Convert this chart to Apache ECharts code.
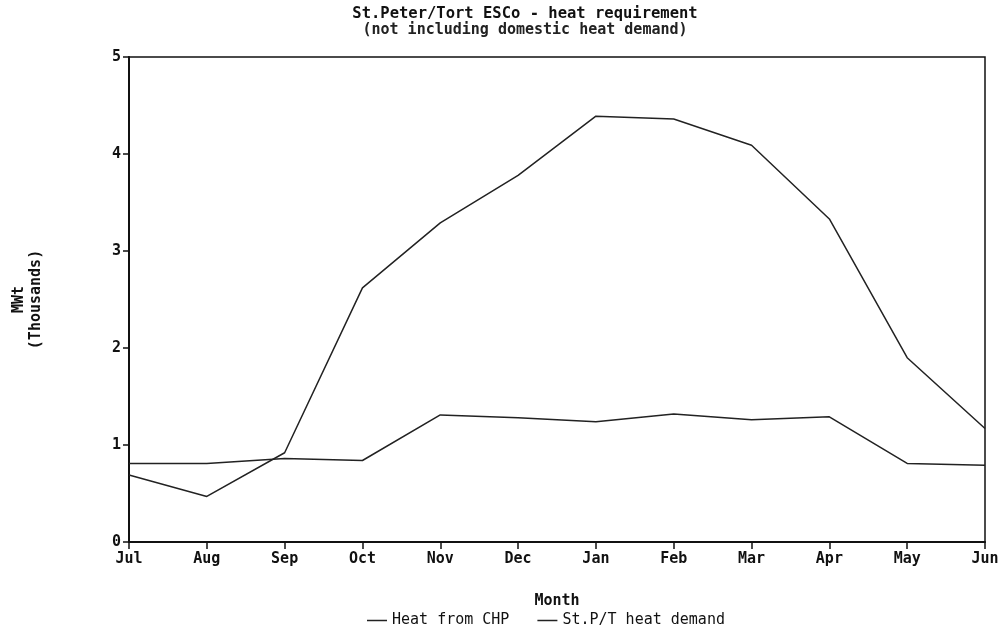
<!DOCTYPE html>
<html>
<head>
<meta charset="utf-8">
<script src="https://cdn.jsdelivr.net/npm/echarts@6/dist/echarts.min.js"></script>
<style>html,body{margin:0;padding:0;background:#fff;}#c{width:1008px;height:636px;}</style>
</head>
<body>
<div id="c"></div>
<script>
const months = ['Jul','Aug','Sep','Oct','Nov','Dec','Jan','Feb','Mar','Apr','May','Jun'];
const heatFromCHP = [0.81,0.81,0.86,0.84,1.31,1.28,1.24,1.32,1.26,1.29,0.81,0.79];
const heatDemand = [0.69,0.47,0.92,2.62,3.29,3.78,4.39,4.36,4.09,3.33,1.90,1.17];
const yTicks = [0,1,2,3,4,5];
const seriesNames = ['Heat from CHP','St.P/T heat demand'];

const font = 'DejaVu Sans Mono';
const chart = echarts.init(document.getElementById('c'));
chart.setOption({
  backgroundColor:'#fff',
  animation:false,
  title:{
    text:'St.Peter/Tort ESCo - heat requirement',
    subtext:'(not including domestic heat demand)',
    left:520, textAlign:'center', top:1,
    itemGap:1,
    textStyle:{fontFamily:font,fontSize:15.5,fontWeight:'bold',color:'#111'},
    subtextStyle:{fontFamily:font,fontSize:15,fontWeight:'bold',color:'#222'}
  },
  legend:{
    data:seriesNames,
    bottom:3,
    left:362,
    itemWidth:20,itemHeight:1.5,
    itemGap:28,
    icon:'rect',
    textStyle:{fontFamily:font,fontSize:15,color:'#111'}
  },
  grid:{left:129,right:23,top:57,bottom:94,show:true,borderColor:'#111',borderWidth:1.5},
  xAxis:{
    type:'category',
    data:months,
    boundaryGap:false,
    name:'Month',nameLocation:'middle',nameGap:52,
    nameTextStyle:{fontFamily:font,fontSize:15,fontWeight:'bold',color:'#111'},
    axisLine:{lineStyle:{color:'#111',width:2}},
    axisTick:{length:7,lineStyle:{color:'#111',width:1.5},alignWithLabel:true},
    axisLabel:{fontFamily:font,fontSize:15,fontWeight:'bold',color:'#111',margin:10,
      interval:0}
  },
  yAxis:{
    type:'value',
    min:0,max:5,interval:1,
    name:'MWt\n(Thousands)',nameLocation:'middle',nameGap:84,nameRotate:90,
    nameTextStyle:{fontFamily:font,fontSize:15,fontWeight:'bold',color:'#111',lineHeight:17},
    axisLine:{show:true,lineStyle:{color:'#111',width:2}},
    axisTick:{show:true,length:6,lineStyle:{color:'#111',width:1.5}},
    splitLine:{show:false},
    axisLabel:{fontFamily:font,fontSize:15,fontWeight:'bold',color:'#111',margin:8,
      formatter:function(v){return yTicks.indexOf(v)>=0?String(v):'';}}
  },
  series:[
    {name:seriesNames[0],type:'line',data:heatFromCHP,symbol:'none',
      lineStyle:{color:'#222',width:1.5},itemStyle:{color:'#222'}},
    {name:seriesNames[1],type:'line',data:heatDemand,symbol:'none',
      lineStyle:{color:'#222',width:1.5},itemStyle:{color:'#222'}}
  ]
});
</script>
</body>
</html>
